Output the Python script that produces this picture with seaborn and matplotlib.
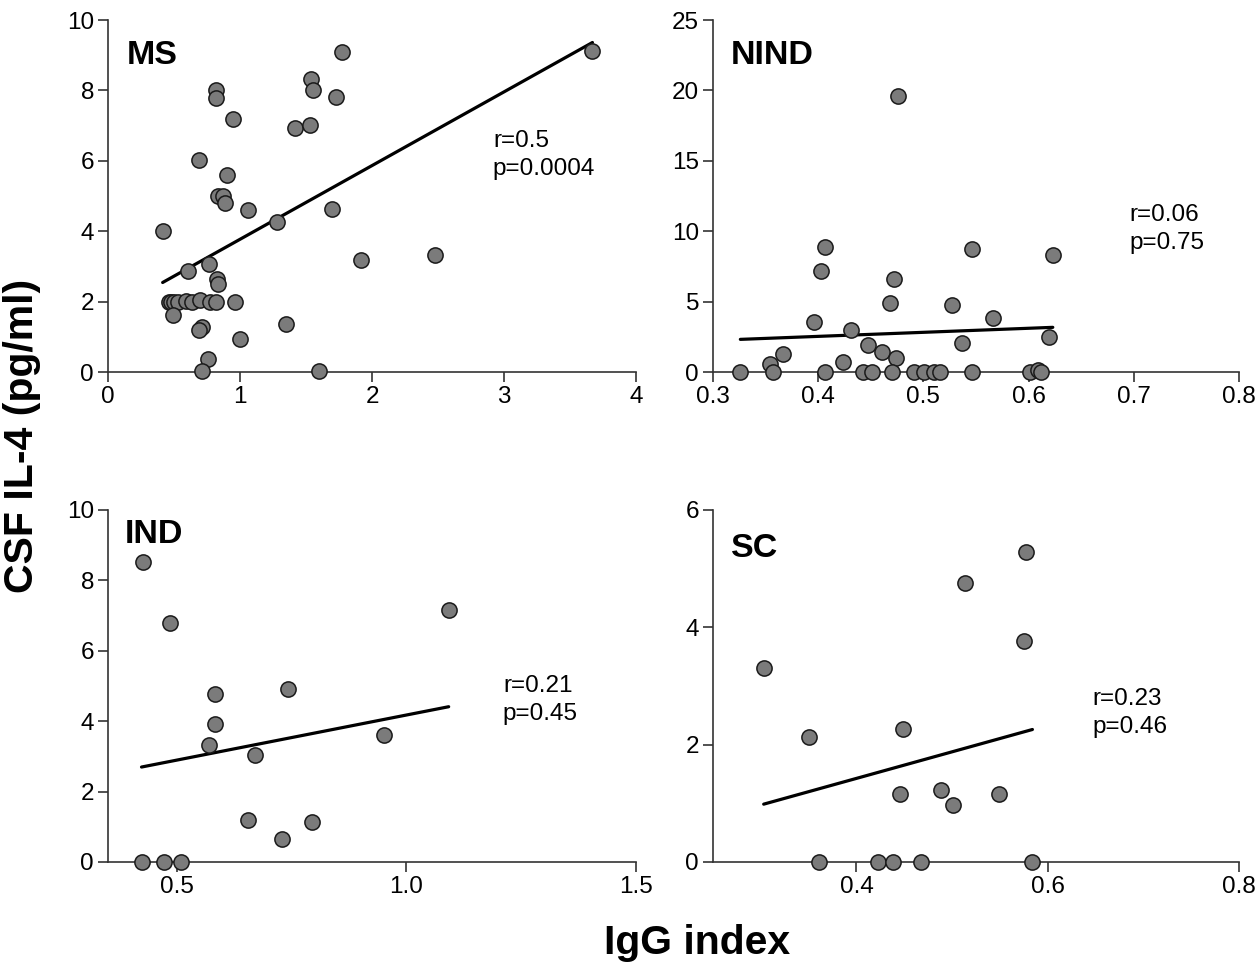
import matplotlib.pyplot as plt
import seaborn as sns
import pandas as pd

# dados (IgG index x CSF IL-4)
ms_x = [3.67, 1.77, 1.54, 1.55, 1.73, 0.816, 0.82, 0.944, 1.42, 1.53,
        0.687, 0.905, 0.834, 0.87, 0.887, 1.057, 1.70, 1.277, 0.414, 0.603,
        0.766, 0.826, 0.834, 1.92, 2.48,
        0.46, 0.48, 0.50, 0.53, 0.59, 0.64, 0.70, 0.77, 0.82, 0.96,
        0.49, 0.71, 0.687, 0.997, 1.35, 0.76, 0.71, 1.60]
ms_y = [9.12, 9.10, 8.31, 8.01, 7.81, 8.02, 7.77, 7.18, 6.92, 7.01,
        6.02, 5.59, 5.00, 5.01, 4.79, 4.60, 4.63, 4.27, 4.01, 2.87,
        3.07, 2.63, 2.49, 3.18, 3.32,
        2.0, 2.0, 2.0, 2.0, 2.02, 2.0, 2.04, 2.0, 2.0, 2.0,
        1.61, 1.28, 1.18, 0.93, 1.37, 0.36, 0.02, 0.02]

nind_x = [0.476, 0.406, 0.403, 0.472, 0.468, 0.546, 0.623, 0.527, 0.566, 0.396,
          0.431, 0.619, 0.537, 0.447, 0.461, 0.474, 0.367, 0.354, 0.424,
          0.326, 0.357, 0.406, 0.443, 0.451, 0.470, 0.491, 0.501, 0.510, 0.516,
          0.546, 0.601, 0.609, 0.612]
nind_y = [19.62, 8.88, 7.17, 6.63, 4.88, 8.73, 8.31, 4.78, 3.86, 3.57,
          2.98, 2.49, 2.08, 1.92, 1.42, 1.02, 1.28, 0.59, 0.73,
          0, 0, 0, 0, 0, 0, 0, 0, 0, 0,
          0, 0, 0.15, 0]

ind_x = [0.426, 0.486, 1.092, 0.583, 0.742, 0.583, 0.569, 0.670, 0.952,
         0.656, 0.795, 0.730, 0.423, 0.472, 0.510]
ind_y = [8.51, 6.79, 7.17, 4.78, 4.91, 3.92, 3.31, 3.03, 3.62,
         1.20, 1.13, 0.66, 0, 0, 0]

sc_x = [0.303, 0.350, 0.449, 0.513, 0.577, 0.575, 0.446, 0.488, 0.501, 0.549,
        0.361, 0.423, 0.438, 0.468, 0.584]
sc_y = [3.31, 2.13, 2.27, 4.76, 5.28, 3.76, 1.16, 1.22, 0.97, 1.16,
        0, 0, 0, 0, 0]

grupos = ["MS", "NIND", "IND", "SC"]
estatisticas = ["r=0.5\np=0.0004", "r=0.06\np=0.75", "r=0.21\np=0.45", "r=0.23\np=0.46"]

sns.set_style("ticks")
plt.rcParams["font.family"] = ["Liberation Sans", "DejaVu Sans"]
plt.rcParams["text.color"] = "black"
plt.rcParams["xtick.labelcolor"] = "black"
plt.rcParams["ytick.labelcolor"] = "black"

fig = plt.figure(figsize=(12.59, 9.66), dpi=100)
W, H = 1259, 966


def eixo(esq, dir, topo, base):
    return fig.add_axes([esq / W, 1 - base / H, (dir - esq) / W, (base - topo) / H])


eixos = [
    eixo(108, 636, 20, 372),
    eixo(713, 1239, 20, 372),
    eixo(108, 636, 510, 862),
    eixo(713, 1239, 510, 862),
]

dados = [(ms_x, ms_y), (nind_x, nind_y), (ind_x, ind_y), (sc_x, sc_y)]
limites_x = [(0, 4), (0.3, 0.8), (0.35, 1.5), (0.25, 0.8)]
limites_y = [(0, 10), (0, 25), (0, 10), (0, 6)]
ticks_x = [[0, 1, 2, 3, 4], [0.3, 0.4, 0.5, 0.6, 0.7, 0.8], [0.5, 1.0, 1.5], [0.4, 0.6, 0.8]]
labels_x = [["0", "1", "2", "3", "4"], ["0.3", "0.4", "0.5", "0.6", "0.7", "0.8"],
            ["0.5", "1.0", "1.5"], ["0.4", "0.6", "0.8"]]
ticks_y = [[0, 2, 4, 6, 8, 10], [0, 5, 10, 15, 20, 25], [0, 2, 4, 6, 8, 10], [0, 2, 4, 6]]
pos_grupo = [(0.036, 0.90), (0.034, 0.90), (0.032, 0.929), (0.034, 0.892)]
pos_stat = [(0.729, 0.688), (0.791, 0.477), (0.748, 0.53), (0.722, 0.495)]

for i, ax in enumerate(eixos):
    x, y = dados[i]
    df = pd.DataFrame({"x": x, "y": y})

    sns.regplot(
        data=df, x="x", y="y", ax=ax, ci=None,
        scatter=False,
        line_kws={"color": "black", "linewidth": 2.3, "zorder": 2}
    )
    sns.scatterplot(
        data=df, x="x", y="y", ax=ax,
        s=120, color="#7b7b7b", edgecolor="#1a1a1a", linewidth=1.1,
        zorder=3, clip_on=False
    )

    ax.set_xlim(limites_x[i])
    ax.set_ylim(limites_y[i])
    ax.set_xticks(ticks_x[i])
    ax.set_xticklabels(labels_x[i])
    ax.set_yticks(ticks_y[i])
    ax.set_xlabel("")
    ax.set_ylabel("")
    ax.tick_params(labelsize=17.5, length=7, width=1.2, color="#333333", pad=3)
    sns.despine(ax=ax)
    for lado in ["left", "bottom"]:
        ax.spines[lado].set_linewidth(1.2)
        ax.spines[lado].set_color("#333333")

    ax.text(pos_grupo[i][0], pos_grupo[i][1], grupos[i], transform=ax.transAxes,
            fontsize=24.5, fontweight="bold", va="center", ha="left")
    ax.text(pos_stat[i][0], pos_stat[i][1], estatisticas[i], transform=ax.transAxes,
            fontsize=17.5, va="top", ha="left", linespacing=1.35)

fig.text(22 / W, 1 - 436 / H, "CSF IL-4 (pg/ml)", rotation=90, fontsize=29.5,
         fontweight="bold", ha="center", va="center")
fig.text(697 / W, 1 - 943 / H, "IgG index", fontsize=29.5,
         fontweight="bold", ha="center", va="center")

fig.savefig("out.png", dpi=100)
